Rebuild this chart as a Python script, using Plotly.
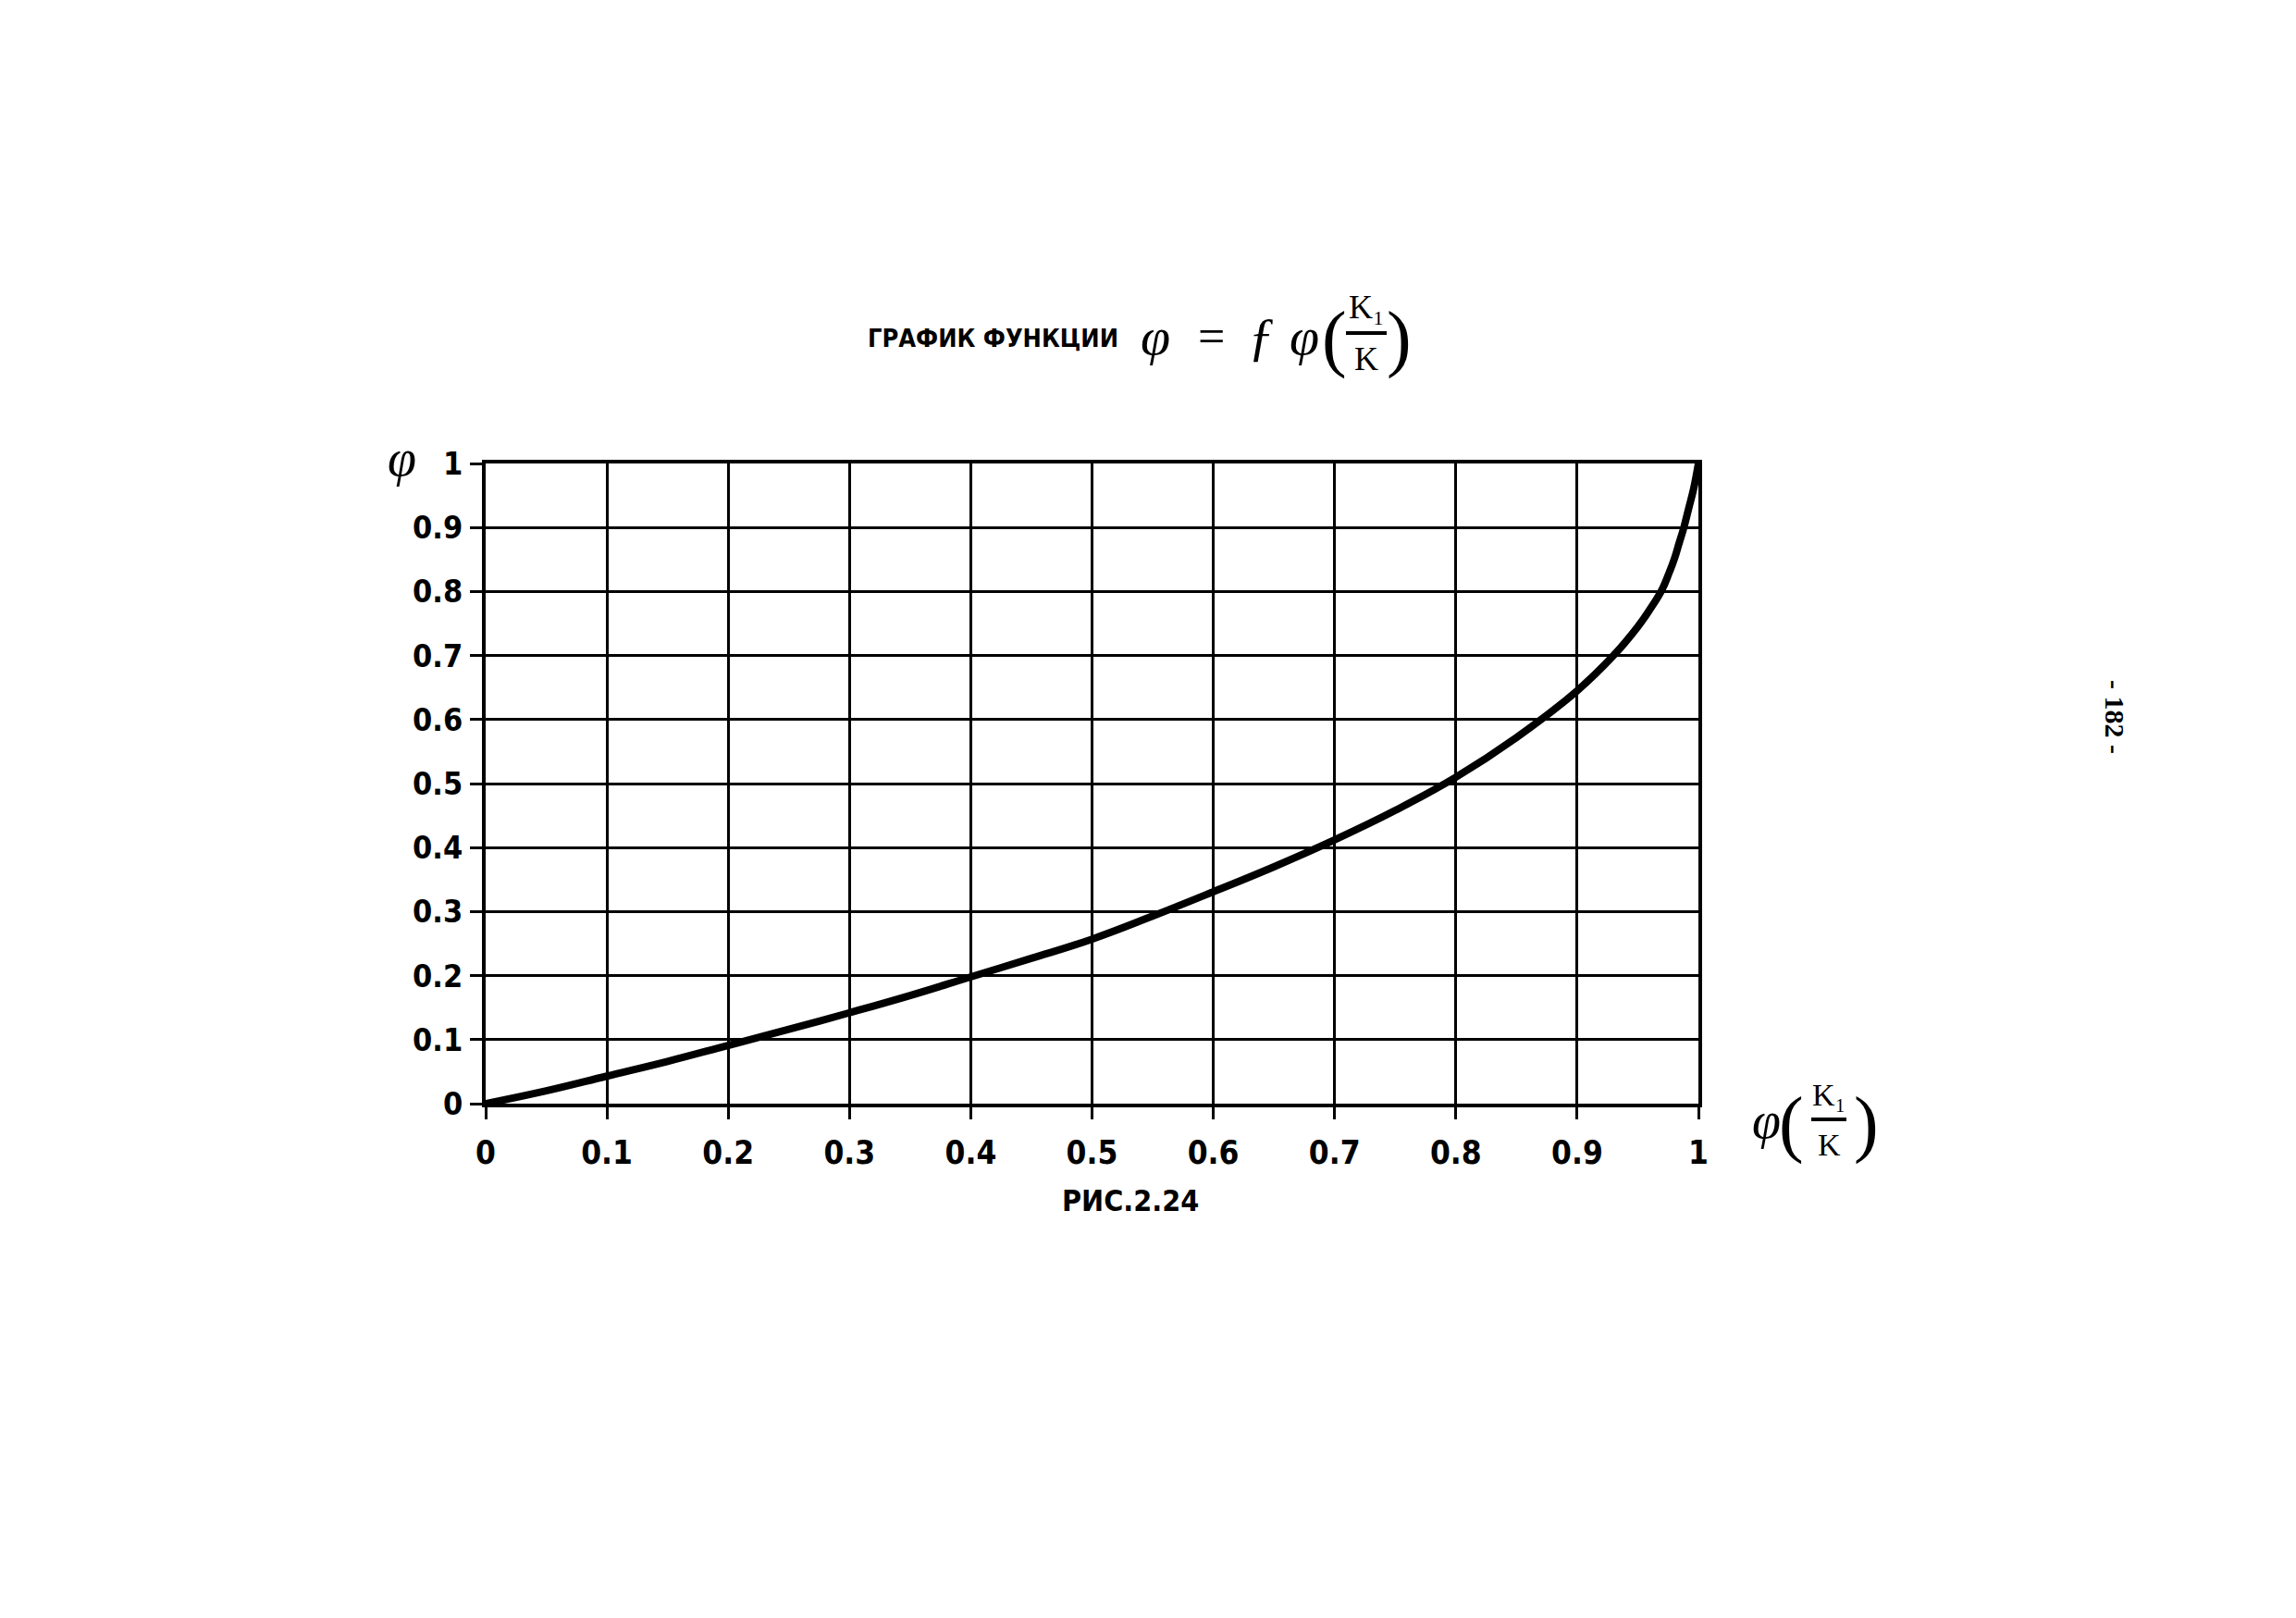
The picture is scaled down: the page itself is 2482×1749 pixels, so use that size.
import plotly.graph_objects as go

# Data
x_vals = [0.0, 0.05, 0.1, 0.15, 0.2, 0.25, 0.3, 0.35, 0.4, 0.45, 0.5, 0.55, 0.6,
          0.65, 0.7, 0.75, 0.8, 0.85, 0.9, 0.93, 0.95, 0.96, 0.97, 0.976, 0.98,
          0.984, 0.988, 0.992, 0.996, 1.0]
y_vals = [0.0, 0.02, 0.043, 0.066, 0.091, 0.116, 0.142, 0.169, 0.198, 0.227, 0.257, 0.293, 0.331,
          0.37, 0.412, 0.458, 0.51, 0.572, 0.645, 0.70, 0.745, 0.772, 0.803, 0.83, 0.85,
          0.875, 0.90, 0.93, 0.96, 1.0]

tick_vals = [0, 0.1, 0.2, 0.3, 0.4, 0.5, 0.6, 0.7, 0.8, 0.9, 1]
tick_text = ["0", "0.1", "0.2", "0.3", "0.4", "0.5", "0.6", "0.7", "0.8", "0.9", "1"]

# Page body has a small default margin, so the figure is offset slightly.
OFF = 5
W, H = 2482 - 2 * OFF, 1749 - 2 * OFF
PX0, PX1, PY0, PY1 = 522, 1833, 498, 1190   # plot area in reference page pixels
L, T = PX0 - OFF, PY0 - OFF
PW, PH = PX1 - PX0, PY1 - PY0
R, B = W - L - PW, H - T - PH


def px(xp):
    return (xp - PX0) / PW


def py(yp):
    return (PY1 - yp) / PH


fig = go.Figure()
fig.add_trace(go.Scatter(
    x=x_vals, y=y_vals, mode="lines",
    line=dict(color="black", width=8, shape="spline", smoothing=1.2),
    showlegend=False, hoverinfo="skip",
))

cond = "DejaVu Sans Condensed, DejaVu Sans, sans-serif"
hand = "Liberation Serif, DejaVu Serif, serif"

axis_common = dict(
    range=[0, 1], tickvals=tick_vals, ticktext=tick_text,
    showgrid=True, gridcolor="black", gridwidth=3,
    showline=True, linecolor="black", linewidth=4, mirror=True,
    ticks="outside", ticklen=13, tickwidth=3, tickcolor="black",
    zeroline=False, fixedrange=True,
)

fig.update_xaxes(**axis_common,
                 tickfont=dict(family=cond, size=35, color="black", weight="bold"),
                 ticklabelstandoff=6)
fig.update_yaxes(**axis_common,
                 tickfont=dict(family=cond, size=34, color="black", weight="bold"),
                 ticklabelstandoff=1)

annots = []


def add(xf, yf, text, size, family=hand, italic=False, bold=False, **kw):
    font = dict(family=family, size=size, color="black")
    if italic:
        font["style"] = "italic"
    if bold:
        font["weight"] = "bold"
    d = dict(x=px(xf), y=py(yf), text=text, font=font)
    d.update(kw)
    annots.append(d)


# Title
add(1070, 362, "ГРАФИК ФУНКЦИИ", 27, family=cond, bold=True)
add(1246, 360, "φ", 58, italic=True)
add(1306, 360, "=", 52)
add(1360, 360, "ƒ", 58, italic=True)
add(1407, 360, "φ", 58, italic=True)
add(1439, 362, "(", 80)
add(1474, 329, "K₁", 36)
add(1474, 385, "K", 36)
add(1509, 362, ")", 80)
# Y axis label
add(431, 492, "φ", 56, italic=True)
# X axis label
add(1906, 1208, "φ", 56, italic=True)
add(1933, 1211, "(", 80)
add(1974, 1180, "K₁", 34)
add(1974, 1234, "K", 34)
add(2014, 1211, ")", 80)
# Caption
add(1219, 1295, "РИС.2.24", 32, family=cond, bold=True)
# Page number
add(2284, 772, "- 182 -", 30, bold=True, textangle=90)

for a in annots:
    a.update(xref="paper", yref="paper", showarrow=False,
             xanchor="center", yanchor="middle")

shapes = [
    dict(type="line", xref="paper", yref="paper",
         x0=px(1452), x1=px(1496), y0=py(357), y1=py(357),
         line=dict(color="black", width=4)),
    dict(type="line", xref="paper", yref="paper",
         x0=px(1955), x1=px(1993), y0=py(1207), y1=py(1207),
         line=dict(color="black", width=4)),
]

fig.update_layout(
    width=W, height=H,
    margin=dict(l=L, r=R, t=T, b=B, autoexpand=False),
    paper_bgcolor="white", plot_bgcolor="white",
    annotations=annots, shapes=shapes,
    showlegend=False,
)

fig.write_html("out.html")
